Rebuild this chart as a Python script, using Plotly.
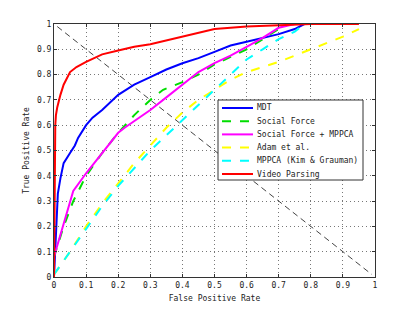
import plotly.graph_objects as go

# ---- data ----
vp_fpr = [0.0, 0.002, 0.004, 0.006, 0.01, 0.02, 0.03, 0.05, 0.07, 0.10, 0.15, 0.20, 0.25, 0.30, 0.35, 0.40, 0.45, 0.50, 0.55, 0.60, 0.70, 0.80, 0.95]
vp_tpr = [0.0, 0.45, 0.60, 0.64, 0.67, 0.72, 0.76, 0.81, 0.83, 0.85, 0.88, 0.895, 0.91, 0.92, 0.935, 0.95, 0.965, 0.98, 0.985, 0.99, 0.995, 1.0, 1.0]

mdt_fpr = [0.0, 0.003, 0.008, 0.012, 0.02, 0.03, 0.05, 0.065, 0.075, 0.09, 0.10, 0.12, 0.15, 0.20, 0.25, 0.30, 0.35, 0.40, 0.45, 0.50, 0.55, 0.60, 0.65, 0.70, 0.75, 0.78]
mdt_tpr = [0.0, 0.10, 0.20, 0.33, 0.39, 0.45, 0.49, 0.52, 0.55, 0.58, 0.60, 0.63, 0.66, 0.72, 0.76, 0.79, 0.82, 0.845, 0.865, 0.89, 0.915, 0.93, 0.945, 0.96, 0.98, 1.0]

sf_fpr = [0.0, 0.03, 0.06, 0.10, 0.15, 0.20, 0.25, 0.30, 0.34, 0.40, 0.45, 0.50, 0.55, 0.60, 0.65, 0.70, 0.73]
sf_tpr = [0.08, 0.20, 0.30, 0.40, 0.49, 0.57, 0.64, 0.70, 0.74, 0.77, 0.80, 0.84, 0.87, 0.90, 0.94, 0.98, 1.0]

sfm_fpr = [0.0, 0.06, 0.10, 0.15, 0.20, 0.22, 0.30, 0.35, 0.40, 0.45, 0.50, 0.55, 0.60, 0.65, 0.70, 0.75]
sfm_tpr = [0.08, 0.34, 0.41, 0.49, 0.57, 0.59, 0.66, 0.71, 0.76, 0.81, 0.845, 0.875, 0.91, 0.945, 0.985, 1.0]

adam_fpr = [0.0, 0.05, 0.10, 0.15, 0.20, 0.25, 0.30, 0.35, 0.40, 0.45, 0.50, 0.55, 0.60, 0.70, 0.80, 0.90, 0.95]
adam_tpr = [0.01, 0.10, 0.20, 0.29, 0.37, 0.45, 0.52, 0.59, 0.65, 0.70, 0.74, 0.78, 0.81, 0.85, 0.90, 0.95, 0.98]

mppca_fpr = [0.0, 0.05, 0.10, 0.15, 0.20, 0.25, 0.30, 0.35, 0.40, 0.45, 0.50, 0.55, 0.60, 0.65, 0.70, 0.75, 0.78]
mppca_tpr = [0.01, 0.10, 0.19, 0.28, 0.36, 0.43, 0.50, 0.56, 0.62, 0.68, 0.74, 0.80, 0.86, 0.90, 0.94, 0.97, 1.0]

diag_x = [0.01, 0.99]
diag_y = [0.99, 0.01]

series_names = ["MDT", "Social Force", "Social Force + MPPCA", "Adam et al.",
                "MPPCA (Kim & Grauman)", "Video Parsing"]
series_x = [mdt_fpr, sf_fpr, sfm_fpr, adam_fpr, mppca_fpr, vp_fpr]
series_y = [mdt_tpr, sf_tpr, sfm_tpr, adam_tpr, mppca_tpr, vp_tpr]
series_colors = ["#0000ff", "#00dd00", "#ff00ff", "#ffff00", "#00ffff", "#ff0000"]
series_dash = ["solid", "dash", "solid", "dash", "dash", "solid"]

tick_vals = [0, 0.1, 0.2, 0.3, 0.4, 0.5, 0.6, 0.7, 0.8, 0.9, 1]
tick_text = ["0", "0.1", "0.2", "0.3", "0.4", "0.5", "0.6", "0.7", "0.8", "0.9", "1"]

FONT = "DejaVu Sans Mono"
OFF = 8  # default page body margin
W, H = 407, 303
L, R, T, B = 46, 40, 16, 34
PW, PH = W - L - R, H - T - B


def px_x(p):  # screen pixel -> paper x
    return (p - OFF - L) / PW


def px_y(p):  # screen pixel -> paper y
    return (OFF + H - B - p) / PH


fig = go.Figure()
fig.add_trace(go.Scatter(x=diag_x, y=diag_y, mode="lines", showlegend=False,
                         line=dict(color="#444444", width=1, dash="6px,4px")))
for xs, ys, nm, c, d in zip(series_x, series_y, series_names, series_colors, series_dash):
    fig.add_trace(go.Scatter(x=xs, y=ys, mode="lines", name=nm, showlegend=False,
                             line=dict(color=c, width=2, dash=d)))

# manual legend box (MATLAB style, compact)
shapes = [dict(type="rect", xref="paper", yref="paper",
               x0=px_x(218), x1=px_x(363), y0=px_y(180), y1=px_y(100),
               line=dict(color="#333333", width=1), fillcolor="white", layer="above")]
annotations = []
row0, row_step = 108, 13.2
for i, (nm, c, d) in enumerate(zip(series_names, series_colors, series_dash)):
    yy = px_y(row0 + i * row_step)
    shapes.append(dict(type="line", xref="paper", yref="paper",
                       x0=px_x(222), x1=px_x(253), y0=yy, y1=yy,
                       line=dict(color=c, width=2, dash="dash" if d == "dash" else "solid"),
                       layer="above"))
    annotations.append(dict(xref="paper", yref="paper", x=px_x(255), y=yy,
                            xanchor="left", yanchor="middle", showarrow=False,
                            text=nm, font=dict(family=FONT, size=8, color="#222222")))

axis_common = dict(range=[0, 1], tickvals=tick_vals, ticktext=tick_text,
                   showgrid=True, gridcolor="#777777", griddash="1px,3px", gridwidth=1,
                   showline=True, linecolor="#333333", linewidth=1, mirror="ticks",
                   ticks="inside", ticklen=3, tickcolor="#333333", automargin=False,
                   zeroline=False, tickfont=dict(family=FONT, size=8, color="#222222"))

fig.update_layout(
    width=W, height=H,
    margin=dict(l=L, r=R, t=T, b=B),
    paper_bgcolor="white", plot_bgcolor="white",
    font=dict(family=FONT, size=8, color="#222222"),
    showlegend=False,
    shapes=shapes, annotations=annotations,
    xaxis=dict(title=dict(text="False Positive Rate", font=dict(family=FONT, size=8), standoff=6), **axis_common),
    yaxis=dict(title=dict(text="True Positive Rate", font=dict(family=FONT, size=8), standoff=6), **axis_common),
)

fig.write_html("out.html")
